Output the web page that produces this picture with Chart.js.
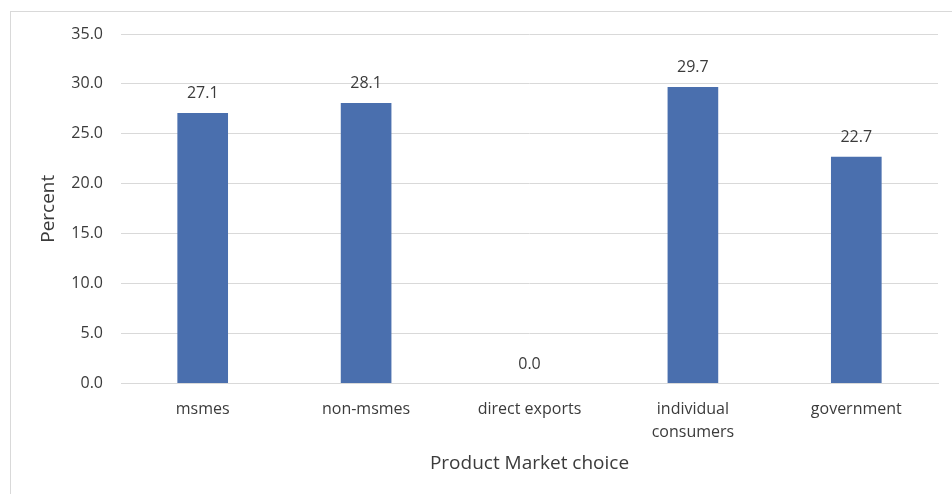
<!DOCTYPE html>
<html>
<head>
<meta charset="utf-8">
<script src="https://cdn.jsdelivr.net/npm/chart.js@4/dist/chart.umd.min.js"></script>
<style>
  html, body { margin: 0; padding: 0; background: #fff; }
  #wrap { position: relative; width: 952px; height: 494px; }
  #frame { position: absolute; left: 10px; top: 11px; right: 0; bottom: 0;
           border-left: 1px solid #d9d9d9; border-top: 1px solid #d9d9d9; }
  canvas { position: absolute; left: 0; top: 0; }
</style>
</head>
<body>
<div id="wrap">
  <div id="frame"></div>
  <canvas id="marketChart" width="952" height="494"></canvas>
</div>
<script>
const categories = ['msmes', 'non-msmes', 'direct exports', ['individual', 'consumers'], 'government'];
const percentValues = [27.1, 28.1, 0.0, 29.7, 22.7];
const yTicks = [0, 5, 10, 15, 20, 25, 30, 35];

const textColor = '#3b3b3b';
const fontFamily = 'Open Sans, sans-serif';

// value labels above each bar
const barLabels = {
  id: 'barLabels',
  afterDatasetsDraw(chart) {
    const ctx = chart.ctx;
    const meta = chart.getDatasetMeta(0);
    ctx.save();
    ctx.fillStyle = textColor;
    ctx.font = '16px ' + fontFamily;
    ctx.textAlign = 'center';
    ctx.textBaseline = 'middle';
    meta.data.forEach((bar, i) => {
      ctx.fillText(percentValues[i].toFixed(1), bar.x, bar.y - 19);
    });
    ctx.restore();
  }
};

const ctxMarket = document.getElementById('marketChart').getContext('2d');

new Chart(ctxMarket, {
  type: 'bar',
  data: {
    labels: categories,
    datasets: [{
      label: 'Percent',
      data: percentValues,
      backgroundColor: '#4a6fae',
      barPercentage: 0.62,
      categoryPercentage: 0.5,
    }]
  },
  options: {
    responsive: false,
    animation: false,
    layout: {
      padding: { left: 0, top: 34, right: 14, bottom: 0 }
    },
    scales: {
      x: {
        afterFit: scale => { scale.height = 110.5; },
        grid: { display: false },
        border: { display: true, color: '#d9d9d9', width: 1 },
        ticks: {
          color: textColor,
          font: { family: fontFamily, size: 16, lineHeight: 1.45 },
          padding: 6,
          maxRotation: 0,
          autoSkip: false,
        },
        title: {
          display: true,
          text: 'Product Market choice',
          color: textColor,
          font: { family: fontFamily, size: 19 },
          padding: { top: 0, bottom: 19 }
        }
      },
      y: {
        min: 0,
        max: 35,
        afterFit: scale => { scale.width = 121; },
        afterBuildTicks: scale => { scale.ticks = yTicks.map(v => ({ value: v })); },
        grid: { color: '#d9d9d9', drawTicks: false },
        border: { display: false },
        ticks: {
          color: textColor,
          font: { family: fontFamily, size: 16 },
          padding: 18,
          callback: v => Number(v).toFixed(1)
        },
        title: {
          display: true,
          text: 'Percent',
          color: textColor,
          font: { family: fontFamily, size: 19 },
          padding: { top: 37, bottom: 0 }
        }
      }
    },
    plugins: {
      legend: { display: false },
      tooltip: { enabled: false }
    }
  },
  plugins: [barLabels]
});
</script>
</body>
</html>
